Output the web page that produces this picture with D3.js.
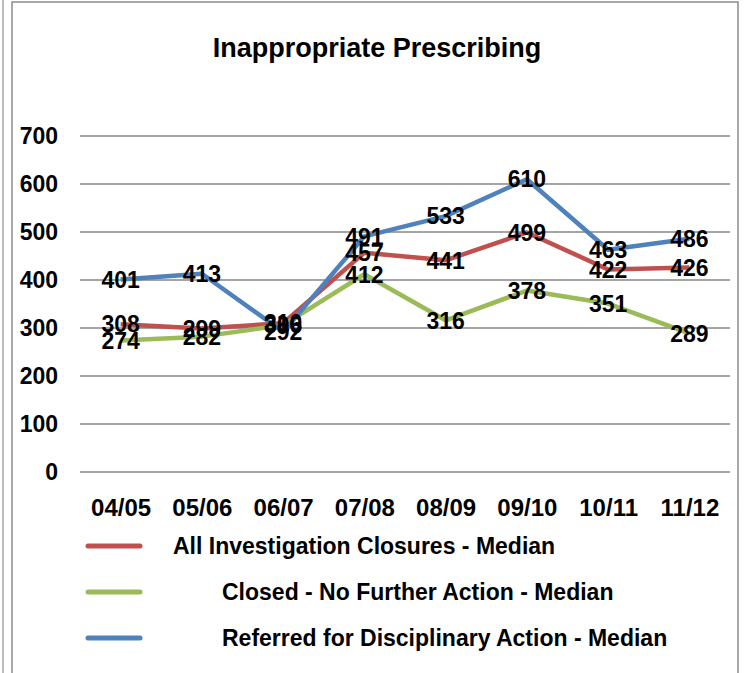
<!DOCTYPE html>
<html>
<head>
<meta charset="utf-8">
<script src="https://cdn.jsdelivr.net/npm/d3@7"></script>
<style>
  body { margin: 0; background: #fff; }
  text { font-family: "Liberation Sans", Arial, sans-serif; font-weight: bold; fill: #000; }
</style>
</head>
<body>
<div id="chart"></div>
<script>
const categories = ["04/05", "05/06", "06/07", "07/08", "08/09", "09/10", "10/11", "11/12"];
const allClosures = [308, 299, 310, 457, 441, 499, 422, 426];
const closedNFA = [274, 282, 306, 412, 316, 378, 351, 289];
const referred = [401, 413, 292, 491, 533, 610, 463, 486];
const yTicks = [0, 100, 200, 300, 400, 500, 600, 700];

const series = [
    { name: "All Investigation Closures - Median", values: allClosures, color: "#c0504d", textX: 173 },
    { name: "Closed - No Further Action - Median", values: closedNFA, color: "#9bbb59", textX: 222 },
    { name: "Referred for Disciplinary Action - Median", values: referred, color: "#4f81bd", textX: 222 }
];

const Width = 748, Height = 673;
const plot = { Left: 80, Right: 730, Top: 136, Bottom: 472 };

const svg = d3.select("#chart")
    .append("svg")
        .attr("width", Width)
        .attr("height", Height);

// frame
svg.append("line")
    .attr("x1", 3).attr("x2", 3).attr("y1", 0).attr("y2", Height)
    .attr("stroke", "#a6a6a6").attr("stroke-width", 1.5);
svg.append("rect")
    .attr("x", 12).attr("y", 2).attr("width", 726).attr("height", Height + 10)
    .attr("fill", "none").attr("stroke", "#8c8c8c").attr("stroke-width", 1.5);

// title
svg.append("text")
    .attr("x", 377).attr("y", 57)
    .attr("text-anchor", "middle")
    .attr("font-size", 27)
    .text("Inappropriate Prescribing");

const xScale = d3.scalePoint()
    .domain(categories)
    .range([plot.Left, plot.Right])
    .padding(0.5);

const yScale = d3.scaleLinear()
    .domain([0, 700])
    .range([plot.Bottom, plot.Top]);

// gridlines
svg.append("g")
    .selectAll("line")
    .data(yTicks)
    .join("line")
        .attr("x1", plot.Left).attr("x2", plot.Right)
        .attr("y1", d => yScale(d)).attr("y2", d => yScale(d))
        .attr("stroke", "#878787").attr("stroke-width", 1.5);

// y axis labels
const yAxis = svg.append("g")
    .attr("transform", `translate(58, 0)`)
    .call(d3.axisLeft(yScale).tickValues(yTicks).tickSize(0).tickPadding(0));
yAxis.select(".domain").remove();
yAxis.selectAll("text")
    .attr("font-size", 23)
    .attr("font-family", "Liberation Sans, Arial, sans-serif")
    .attr("fill", "#000");

// x axis labels
const xAxis = svg.append("g")
    .attr("transform", `translate(0, 516)`)
    .call(d3.axisBottom(xScale).tickSize(0).tickPadding(0));
xAxis.select(".domain").remove();
xAxis.selectAll("text")
    .attr("font-size", 24)
    .attr("font-family", "Liberation Sans, Arial, sans-serif")
    .attr("fill", "#000")
    .attr("dy", 0);

// lines
const line = d3.line()
    .x((d, i) => xScale(categories[i]))
    .y(d => yScale(d));

svg.append("g")
    .selectAll("path")
    .data(series)
    .join("path")
        .attr("fill", "none")
        .attr("stroke", d => d.color)
        .attr("stroke-width", 4.5)
        .attr("stroke-linejoin", "round")
        .attr("d", d => line(d.values));

// data labels
series.forEach(s => {
    svg.append("g")
        .selectAll("text")
        .data(s.values)
        .join("text")
            .attr("x", (d, i) => xScale(categories[i]))
            .attr("y", d => yScale(d))
            .attr("dy", "0.36em")
            .attr("text-anchor", "middle")
            .attr("font-size", 23)
            .text(d => d);
});

// legend
const legend = svg.append("g")
    .selectAll("g")
    .data(series)
    .join("g")
        .attr("transform", (d, i) => `translate(0, ${546 + i * 46})`);
legend.append("line")
    .attr("x1", 88).attr("x2", 140)
    .attr("stroke", d => d.color)
    .attr("stroke-width", 5)
    .attr("stroke-linecap", "round");
legend.append("text")
    .attr("x", d => d.textX)
    .attr("dy", "0.36em")
    .attr("font-size", 23)
    .text(d => d.name);
</script>
</body>
</html>
